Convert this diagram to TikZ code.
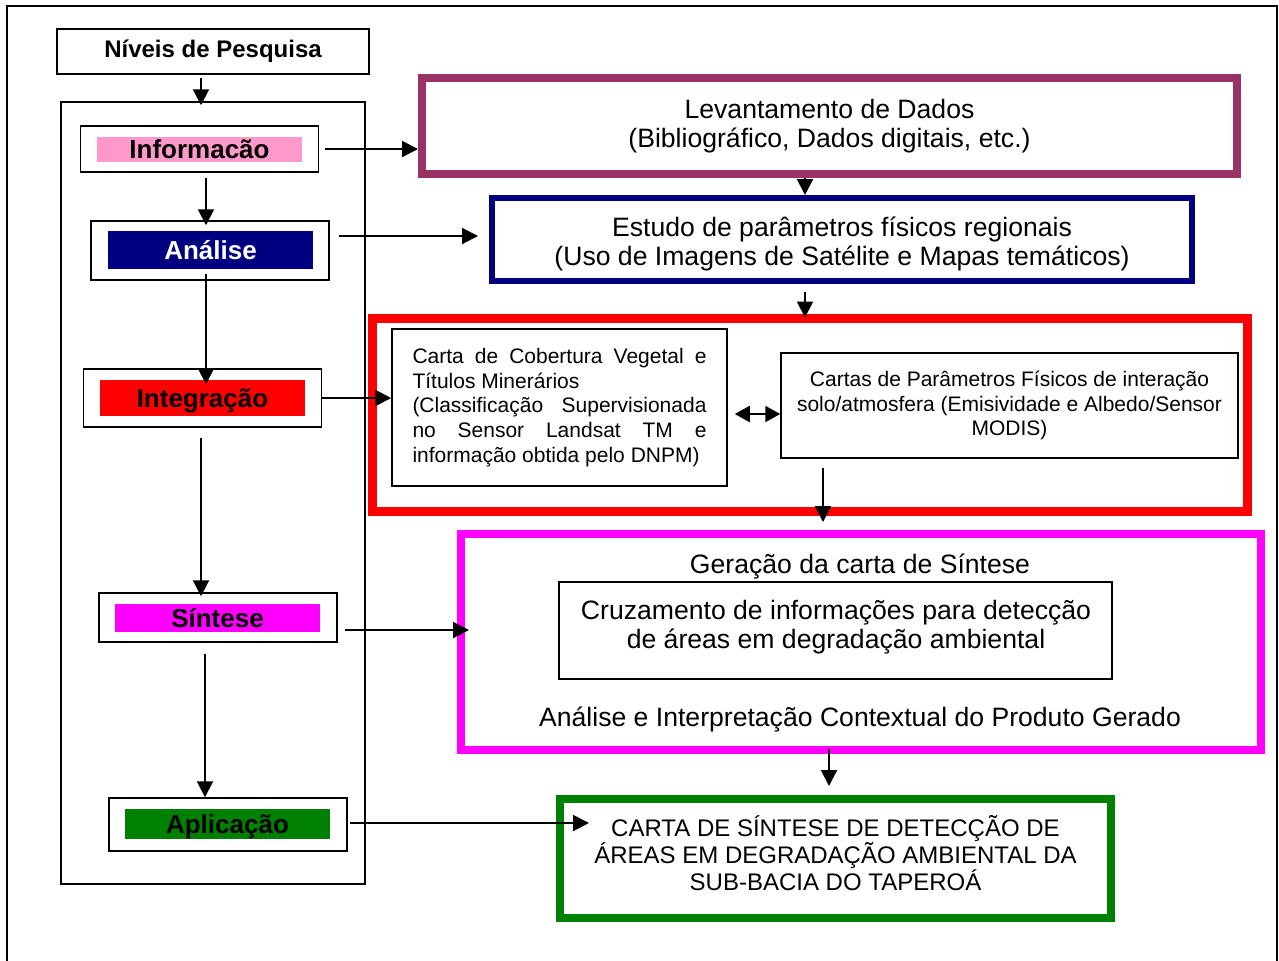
\documentclass[tikz,border=0pt]{standalone}
\usepackage{fontspec}
\setmainfont{Liberation Sans}
\usetikzlibrary{arrows.meta}
\definecolor{ameixa}{HTML}{993366}
\definecolor{marinho}{HTML}{000080}
\definecolor{rosa}{HTML}{FF99CC}
\definecolor{verde}{HTML}{008000}
\definecolor{vermelho}{HTML}{FF0000}
\definecolor{fucsia}{HTML}{FF00FF}
\def\fonte#1#2{\fontsize{#1}{#2}\selectfont}

\begin{document}
\begin{tikzpicture}[x=0.5pt,y=-0.5pt,
		seta/.style={line width=1pt,-{Triangle[length=8pt,width=8pt]}},
		setadupla/.style={line width=1pt,{Triangle[length=7.5pt,width=8pt]}-{Triangle[length=7.5pt,width=8pt]}},
		caixa/.style={draw,line width=0.75pt,inner sep=0pt},
		nivel/.style={caixa,minimum width=119pt},
		faixa/.style={inner sep=0pt,minimum width=102.5pt,text height=9.3pt,text depth=0pt,font=\fonte{13}{15}\bfseries},
		grande/.style={inner sep=0pt,align=center,font=\fonte{13.3}{14.5}}]
		%%%%% START %%%%%
		
		\clip (0,0) rectangle (1279,960);
		\draw[line width=1pt] (7,970) -- (7,6) -- (1277,6) -- (1277,970);
		
		% coluna dos niveis
		\node[caixa,line width=1pt,minimum width=156pt,minimum height=22.5pt,font=\fonte{12}{14}\bfseries] (niveis) at (213,51.5) {Níveis de Pesquisa};
		\node[caixa,minimum width=152pt,minimum height=391pt] (coluna) at (213,493) {};
		
		\node[nivel,minimum height=23pt] (info) at (199.5,149) {};
		\node[faixa,fill=rosa,minimum height=12.5pt] (infoF) at (199.5,149.5) {Informacão};
		
		\node[nivel,minimum height=29.5pt] (analise) at (210,250.5) {};
		\node[faixa,fill=marinho,text=white,minimum height=19pt] (analiseF) at (210.5,250) {Análise};
		
		\node[nivel,minimum height=29pt] (integ) at (202.5,398) {};
		\node[faixa,fill=vermelho,minimum height=18pt] (integF) at (202.5,398) {Integração};
		
		\node[nivel,minimum height=24.5pt] (sintese) at (218,617.5) {};
		\node[faixa,fill=fucsia,minimum height=14pt] (sinteseF) at (217.5,618) {Síntese};
		
		\node[nivel,minimum height=26.5pt] (aplic) at (228,824.5) {};
		\node[faixa,fill=verde,minimum height=15pt] (aplicF) at (227.5,824) {Aplicação};
		
		\draw[seta,shorten >=-2pt] ([xshift=-6pt,yshift=-1.5pt]niveis.south) -- ([xshift=-6pt]coluna.north);
		\draw[seta,shorten >=-2.5pt] ([xshift=3.25pt,yshift=-2.5pt]info.south) -- ([xshift=-2pt]analise.north);
		\draw[seta,shorten >=-8pt] ([xshift=-2pt,yshift=3.5pt]analise.south) -- ([xshift=1.75pt]integ.north);
		\draw[seta,shorten >=-2pt] ([xshift=-0.75pt,yshift=-5pt]integ.south) -- ([xshift=-8.5pt]sintese.north);
		\draw[seta] ([xshift=-6.5pt,yshift=-5.5pt]sintese.south) -- ([xshift=-11.5pt]aplic.north);
		
		% etapas
		\node[grande,draw=ameixa,line width=4pt,minimum width=407.5pt,minimum height=48pt] (lev) at (829.5,126) {Levantamento de Dados\\(Bibliográfico, Dados digitais, etc.)};
		\node[draw=marinho,line width=3pt,inner sep=0pt,minimum width=350pt,minimum height=41.5pt] (estudo) at (842,239.5) {};
		\node[grande] (estudoT) at (842,244) {Estudo de parâmetros físicos regionais\\(Uso de Imagens de Satélite e Mapas temáticos)};
		
		\node[draw=vermelho,line width=4.5pt,inner sep=0pt,minimum width=437.5pt,minimum height=96.5pt] (integra) at (809.5,414.5) {};
		\node[caixa,minimum width=167.5pt,minimum height=78.5pt,text width=147pt,align=justify,font=\fonte{10.5}{12.35}] (cobert) at (559.5,407.5) {Carta de Cobertura Vegetal e\linebreak Títulos Minerários\par (Classificação Supervisionada\linebreak no Sensor Landsat TM e\linebreak informação obtida pelo DNPM)};
		\node[caixa,minimum width=228.5pt,minimum height=52.5pt,align=center,font=\fonte{10.5}{12.2}] (param) at (1009.5,405.5) {Cartas de Parâmetros Físicos de interação\\solo/atmosfera (Emisividade e Albedo/Sensor\\MODIS)};
		
		\node[draw=fucsia,line width=4pt,inner sep=0pt,minimum width=400pt,minimum height=108pt] (sintG) at (861,642) {};
		\node[grande,anchor=base] (geracao) at (860,573.5) {Geração da carta de Síntese};
		\node[caixa,minimum width=276.5pt,minimum height=48.5pt] (cruz) at (835.5,630.5) {};
		\node[grande] (cruzT) at (836,627) {Cruzamento de informações para detecção\\de áreas em degradação ambiental};
		\node[grande,anchor=base] (interp) at (860,726.5) {Análise e Interpretação Contextual do Produto Gerado};
		
		\node[draw=verde,line width=4pt,inner sep=0pt,minimum width=275.5pt,minimum height=59.5pt] (final) at (835.5,858.5) {};
		\node[align=center,inner sep=0pt,font=\fonte{12}{13.5}] (finalT) at (835.5,853.5) {CARTA DE SÍNTESE DE DETECÇÃO DE\\ÁREAS EM DEGRADAÇÃO AMBIENTAL DA\\SUB-BACIA DO TAPEROÁ};
		
		\draw[seta] ([xshift=-12.25pt]lev.south) -- ([xshift=-18.5pt]estudo.north);
		\draw[seta,shorten >=-2pt] ([xshift=-18.5pt,yshift=-4pt]estudo.south) -- ([xshift=-2.25pt]integra.north);
		\draw[setadupla] ([xshift=3.5pt,yshift=-3.25pt]cobert.east) -- ([yshift=-3.25pt]cobert.east -| param.west);
		\draw[seta,shorten >=4pt] ([xshift=-93.25pt,yshift=-4.5pt]param.south) -- ([xshift=-19pt]sintG.north);
		\draw[seta,shorten >=4.5pt] ([xshift=-16pt,yshift=2.5pt]sintG.south) -- ([xshift=-3.25pt]final.north);
		
		% niveis para etapas
		\draw[seta] ([xshift=3pt]info.east) -- (info.east -| lev.west);
		\draw[seta,shorten >=5.5pt] ([xshift=4.5pt,yshift=7.25pt]analise.east) -- ([yshift=7.25pt]analise.east -| estudo.west);
		\draw[seta] (integ.east) -- (integ.east -| cobert.west);
		\draw[seta,shorten >=-6pt] ([xshift=3.5pt,yshift=-6.25pt]sintese.east) -- ([yshift=-6.25pt]sintese.east -| sintG.west);
		\draw[seta,shorten >=-16.5pt] ([xshift=1pt,yshift=0.75pt]aplic.east) -- ([yshift=0.75pt]aplic.east -| final.west);
		
		%%%%% END %%%%%
	\end{tikzpicture}
\end{document}
